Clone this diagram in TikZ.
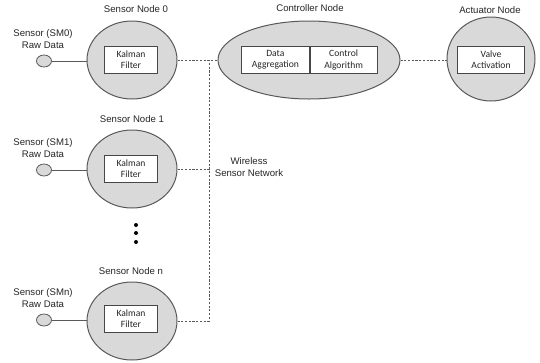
\documentclass[tikz,border=0pt]{standalone}
\usepackage{fontspec}
\setmainfont{Liberation Sans}
\newfontfamily\boxfont{Carlito}
\usetikzlibrary{shapes.geometric}
\definecolor{nodefill}{HTML}{D9D9D9}
\definecolor{edge}{HTML}{595959}
\definecolor{txt}{HTML}{262626}
\tikzset{
  bignode/.style={ellipse, draw=edge, fill=nodefill, line width=0.75pt, inner sep=0pt,
    minimum width=67.5pt, minimum height=58.5pt},
  ctrlnode/.style={bignode, minimum width=136.5pt, minimum height=58.5pt},
  actnode/.style={bignode, minimum width=66pt, minimum height=63pt},
  sensorblob/.style={ellipse, draw=edge, fill=nodefill, line width=0.6pt, inner sep=0pt,
    minimum width=11.25pt, minimum height=9pt},
  procbox/.style={rectangle, draw=edge!80!black, fill=white, line width=0.6pt, inner sep=0pt,
    minimum width=39.75pt, minimum height=20.25pt, align=center, text=txt,
    font=\boxfont\fontsize{7.2}{8.4}\selectfont},
  widebox/.style={procbox, minimum width=50.6pt},
  lbl/.style={align=center, text=txt, inner sep=0pt, font=\fontsize{7.2}{9}\selectfont},
  wire/.style={draw=edge, line width=0.6pt},
  wsn/.style={draw=edge, line width=0.6pt, dash pattern=on 1.6pt off 1.2pt},
  dotnode/.style={circle, fill=black, inner sep=0pt, minimum size=3pt}
}
\begin{document}
\begin{tikzpicture}[x=0.75pt,y=-0.75pt]
\useasboundingbox (0,0) rectangle (540,362);
\fill[white] (0,0) rectangle (540,362);

% sensor node 0
\node[bignode] (s0) at (132,60) {};
\node[procbox] (k0) at (131,60) {Kalman\\Filter};
\node[lbl] (t0) at (136,9) {Sensor Node 0};
\node[sensorblob] (m0) at (44,61) {};
\node[lbl] (r0) at (43,39) {Sensor (SM0)\\Raw Data};
\draw[wire] (m0) -- (m0 -| s0.west);

% sensor node 1
\node[bignode] (s1) at (132,169) {};
\node[procbox] (k1) at (131,169) {Kalman\\Filter};
\node[lbl] (t1) at (132,119) {Sensor Node 1};
\node[sensorblob] (m1) at (44,170) {};
\node[lbl] (r1) at (43,148) {Sensor (SM1)\\Raw Data};
\draw[wire] (m1) -- (m1 -| s1.west);

% dots
\node[dotnode] (d1) at (136,225) {};
\node[dotnode] (d2) at (136,233) {};
\node[dotnode] (d3) at (136,242) {};

% sensor node n
\node[bignode] (sn) at (132,321) {};
\node[procbox] (kn) at (131,319) {Kalman\\Filter};
\node[lbl] (tn) at (131,271) {Sensor Node n};
\node[sensorblob] (mn) at (44,320) {};
\node[lbl] (rn) at (43,298) {Sensor (SMn)\\Raw Data};
\draw[wire] (mn) -- (mn -| sn.west);

% controller
\node[ctrlnode] (ctrl) at (309,60) {};
\node[widebox, anchor=east] (agg) at (309.5,60) {Data\\Aggregation};
\node[widebox, anchor=west] (alg) at (309.5,60) {Control\\Algorithm};
\node[lbl] (tc) at (310,8) {Controller Node};

% actuator
\node[actnode] (act) at (491,59) {};
\node[widebox] (valve) at (491,60) {Valve\\Activation};
\node[lbl] (ta) at (490,10) {Actuator Node};

% wireless network
\coordinate (j0) at (209,60);
\draw[wsn] (s0.east) -- (ctrl.west);
\draw[wsn] (s1.east) -- (s1.east -| j0);
\draw[wsn] (sn.east) -| (j0);
\draw[wsn] (ctrl.east) -- (ctrl.east -| act.west);
\node[lbl] (wl) at (249,167) {Wireless\\Sensor Network};
\end{tikzpicture}
\end{document}
